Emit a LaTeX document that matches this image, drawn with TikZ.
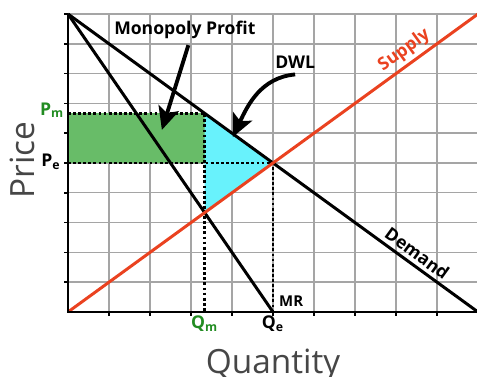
\documentclass[tikz,border=0pt]{standalone}
\usepackage{fontspec}
\setmainfont{Open Sans}
\usetikzlibrary{arrows.meta}
\definecolor{supplyred}{RGB}{234,66,32}
\definecolor{profitgreen}{RGB}{104,188,104}
\definecolor{dwlcyan}{RGB}{104,242,252}
\definecolor{labelgreen}{RGB}{34,140,34}
\definecolor{gridgray}{RGB}{165,165,165}
\definecolor{titlegray}{RGB}{70,70,70}
\begin{document}
\begin{tikzpicture}[x=0.82cm,y=0.596cm,
  curve/.style={line width=1.7pt},
  guide/.style={line width=1.6pt, dash pattern=on 1.6pt off 1.3pt},
  lbl/.style={font=\bfseries\fontsize{10}{12}\selectfont},
  pointer/.style={line width=2.2pt, -{Stealth[length=13pt,width=12pt,inset=3pt]}}]
\useasboundingbox (-1.659,-2.181) rectangle (9.976,10.47);

% grid
\foreach \k in {1,...,10} {
  \draw[gridgray, line width=0.8pt] (\k,0) -- (\k,10);
  \draw[gridgray, line width=0.8pt] (0,\k) -- (10,\k);
}

\coordinate (O) at (0,0);
\coordinate (Top) at (0,10);
\coordinate (Qe) at (5,0);
\coordinate (Qm) at (10/3,0);
\coordinate (E) at (5,5);
\coordinate (M) at (10/3,20/3);
\coordinate (S) at (10/3,10/3);
\coordinate (Pm) at (0,20/3);
\coordinate (Pe) at (0,5);
\coordinate (Dend) at (10,0);
\coordinate (Send) at (10,10);

% profit and dead weight loss
\fill[profitgreen] (Pe) rectangle (M);
\fill[dwlcyan] (M) -- (S) -- (E) -- cycle;

\draw[guide] (Pm) -- (M) -- (Qm);
\draw[guide] (Pe) -- (E) -- (Qe);

% curves
\draw[curve] (Top) -- (Qe);
\draw[curve] (Top) -- (Dend) node[sloped, pos=0.835, above, lbl, inner sep=2pt] {Demand};
\draw[curve, supplyred] (O) -- (Send) node[sloped, pos=0.84, above, lbl, inner sep=2pt] {Supply};

% axes
\draw[line width=1.1pt] (Top) -- (O) -- (10.2,0);
\foreach \k in {1,...,10} {
  \draw[line width=0.9pt] (\k,0) -- ++(0,-0.13);
  \draw[line width=0.9pt] (0,\k) -- ++(-0.1,0);
}

% labels
\node[lbl, text=labelgreen, anchor=base east, inner sep=1pt] (pmlbl) at ([xshift=-1pt,yshift=-1pt]Pm) {P\textsubscript{m}};
\node[lbl, anchor=base east, inner sep=1pt] (pelbl) at ([xshift=-3pt,yshift=-2pt]Pe) {P\textsubscript{e}};
\node[lbl, text=labelgreen, anchor=north, inner sep=2pt] (qmlbl) at (Qm) {Q\textsubscript{m}};
\node[lbl, anchor=north, inner sep=2pt] (qelbl) at (Qe) {Q\textsubscript{e}};
\node[font=\bfseries\fontsize{8.5}{10}\selectfont, anchor=south west, inner sep=1pt] (mrlbl) at (5.1,0.12) {MR};

\node[rotate=90, text=titlegray, font=\fontsize{19}{22}\selectfont] (price) at (-1.12,5.1) {Price};
\node[text=titlegray, font=\fontsize{19}{22}\selectfont, anchor=base] (quantity) at (5.0,-2.08) {Quantity};

% pointers
\node[lbl] (mplbl) at (2.85,9.46) {Monopoly Profit};
\coordinate (mptip) at (2.29,6.11);
\draw[pointer] ([xshift=2pt]mplbl.south) -- (mptip);

\node[lbl] (dwllbl) at (5.54,8.39) {DWL};
\coordinate (dwltip) at (4.02,5.87);
\draw[pointer] (dwllbl.south) to[out=185, in=65] (dwltip);
\end{tikzpicture}
\end{document}
